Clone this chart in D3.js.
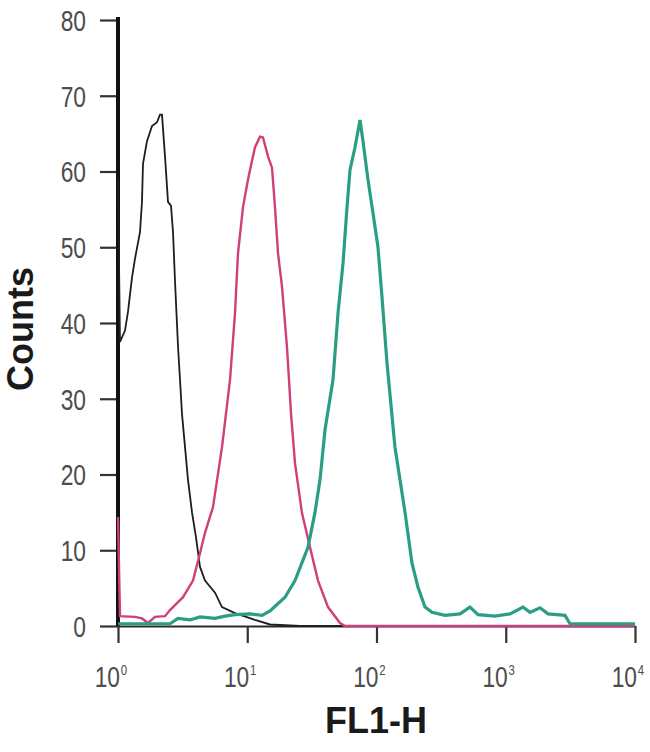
<!DOCTYPE html>
<html lang="en">
<head>
<meta charset="UTF-8">
<title>FL1-H histogram</title>
<script src="https://d3js.org/d3.v7.min.js"></script>
<style>
  body { margin: 0; background: #fff; }
  svg { display: block; background: #fff; }
  .tick-label { font-family: "Liberation Sans", Arial, sans-serif; fill: #4d4d4d; }
  .axis-title { font-family: "Liberation Sans", Arial, sans-serif; font-weight: bold; fill: #1a1a1a; }
</style>
</head>
<body>
<div id="viz"></div>
<script>
// FL1-H histograms (intensity, counts)
var blackFL = [1.0, 1.036, 1.133, 1.195, 1.283, 1.354, 1.48, 1.533, 1.561, 1.676, 1.833, 2.003, 2.113, 2.19, 2.31, 2.437, 2.57, 2.665, 2.761, 2.911, 3.018, 3.127, 3.48, 3.737, 4.013, 4.31, 4.711, 5.63, 6.377, 8.04, 11.48, 15.0, 25.6, 10000];
var blackCounts = [59, 37.5, 39, 41.5, 46, 48.5, 52, 56, 61, 64, 66, 66.5, 67.5, 67.5, 62, 56, 55.5, 52, 45.5, 37, 32.5, 28, 19.3, 15, 11.7, 7.8, 6, 4.4, 2.5, 1.7, 0.8, 0.2, 0, 0];

var magentaFL = [1.0, 1.036, 1.354, 1.533, 1.706, 1.933, 2.31, 2.525, 3.184, 3.804, 4.31, 4.711, 5.433, 6.377, 7.355, 8.04, 8.479, 9.271, 10.13, 10.5, 11.48, 12.55, 13.24, 14.47, 15.54, 16.39, 17.3, 18.57, 20.3, 21.04, 21.81, 23.41, 26.52, 30.59, 35.27, 42.15, 52.2, 57.1, 10000];
var magentaCounts = [14.4, 1.3, 1.2, 1.0, 0.4, 1.2, 1.3, 2.1, 3.8, 6, 9.6, 12.3, 15.7, 23.6, 32.5, 41.3, 49.2, 55.3, 58.9, 60.2, 63.2, 64.6, 64.5, 62, 60.5, 55.3, 49.2, 44.8, 36.8, 32.5, 28, 21.5, 14.9, 10.4, 6, 2.5, 0.4, 0, 0];

var tealFL = [1.0, 2.525, 2.912, 3.606, 4.31, 5.63, 6.728, 8.04, 10.5, 13.01, 15.0, 19.59, 23.41, 29.51, 33.43, 36.55, 39.96, 46.07, 50.37, 55.07, 59.14, 62.37, 68.19, 74.55, 78.63, 85.97, 93.97, 102.7, 110.3, 120.6, 139.0, 166.2, 188.2, 209.5, 237.3, 268.8, 338.8, 442.6, 528.9, 610.1, 825.5, 1079, 1360, 1540, 1841, 2123, 2873, 3142, 10000];
var tealCounts = [0.3, 0.3, 1.0, 0.8, 1.2, 1.0, 1.3, 1.5, 1.6, 1.4, 2, 3.8, 6, 10.4, 15, 19.3, 25.9, 32.5, 41.3, 47.9, 55.3, 60.2, 63.2, 66.8, 64, 58.9, 54.5, 50, 43.4, 34.7, 23.6, 15, 8.3, 5.1, 2.5, 1.8, 1.4, 1.6, 2.5, 1.5, 1.3, 1.6, 2.5, 1.8, 2.4, 1.6, 1.4, 0.3, 0.3];

var yTicks = [0, 10, 20, 30, 40, 50, 60, 70, 80];
var xTicks = [1, 10, 100, 1000, 10000];
var xTickExp = ['0', '1', '2', '3', '4'];

var width = 650, height = 752;
var squeeze = 0.76;   // tick labels are set in a narrow face

var x = d3.scaleLog().domain([1, 10000]).range([118, 635]);
var y = d3.scaleLinear().domain([0, 80]).range([626, 20]);

var svg = d3.select('#viz').append('svg')
  .attr('width', width)
  .attr('height', height);

// y axis
var yAxis = svg.append('g')
  .attr('transform', 'translate(118,0)')
  .call(d3.axisLeft(y).tickValues(yTicks).tickSize(18).tickSizeOuter(0).tickFormat(''));
yAxis.select('.domain').remove();
yAxis.selectAll('.tick line').attr('stroke', '#333').attr('stroke-width', 2.2);

svg.append('line')
  .attr('x1', 118).attr('x2', 118)
  .attr('y1', y(80) - 3).attr('y2', y(0))
  .attr('stroke', '#111').attr('stroke-width', 4);

svg.append('g').selectAll('text')
  .data(yTicks)
  .enter().append('text')
  .attr('class', 'tick-label')
  .attr('transform', function (d) { return 'translate(86,' + y(d) + ') scale(' + squeeze + ',1)'; })
  .attr('dy', '0.36em')
  .attr('text-anchor', 'end')
  .style('font-size', '30px')
  .text(function (d) { return d; });

// x axis
var xAxis = svg.append('g')
  .attr('transform', 'translate(0,626)')
  .call(d3.axisBottom(x).tickValues(xTicks).tickSize(17).tickSizeOuter(0).tickFormat(''));
xAxis.select('.domain').attr('stroke', '#2a2a2a').attr('stroke-width', 2.2);
xAxis.selectAll('.tick line').attr('stroke', '#333').attr('stroke-width', 2.2);

var xl = svg.append('g').selectAll('g')
  .data(xTicks)
  .enter().append('g')
  .attr('transform', function (d) { return 'translate(' + (x(d) + 2) + ',687) scale(' + squeeze + ',1)'; });
xl.append('text')
  .attr('class', 'tick-label')
  .attr('text-anchor', 'end')
  .style('font-size', '30px')
  .text('10');
xl.append('text')
  .attr('class', 'tick-label')
  .attr('x', 1)
  .attr('y', -12)
  .style('font-size', '15px')
  .text(function (d, i) { return xTickExp[i]; });

// histograms
var line = d3.line()
  .x(function (d) { return x(d[0]); })
  .y(function (d) { return y(d[1]); });

function pairs(fl, counts) {
  return fl.map(function (v, i) { return [v, counts[i]]; });
}

svg.append('path')
  .datum(pairs(blackFL, blackCounts))
  .attr('fill', 'none')
  .attr('stroke', '#1e1e1e')
  .attr('stroke-width', 1.8)
  .attr('d', line);

svg.append('path')
  .datum(pairs(magentaFL, magentaCounts))
  .attr('fill', 'none')
  .attr('stroke', '#cf3f7b')
  .attr('stroke-width', 2.4)
  .attr('d', line);

svg.append('path')
  .datum(pairs(tealFL, tealCounts))
  .attr('fill', 'none')
  .attr('stroke', '#2a9e82')
  .attr('stroke-width', 3.2)
  .attr('d', line);

// titles
svg.append('text')
  .attr('class', 'axis-title')
  .attr('x', 376)
  .attr('y', 733)
  .attr('text-anchor', 'middle')
  .style('font-size', '36px')
  .text('FL1-H');

svg.append('text')
  .attr('class', 'axis-title')
  .attr('transform', 'translate(33,329) rotate(-90)')
  .attr('text-anchor', 'middle')
  .style('font-size', '36px')
  .text('Counts');
</script>
</body>
</html>
